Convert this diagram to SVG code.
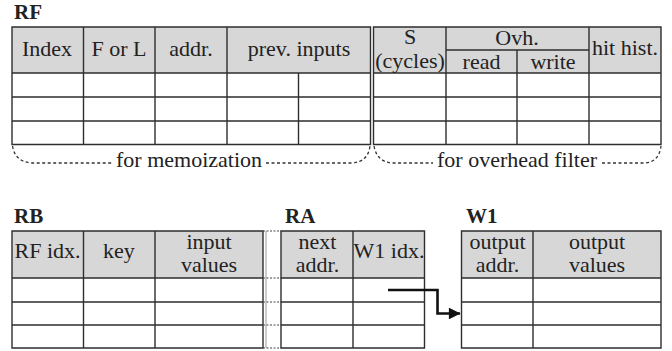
<svg xmlns="http://www.w3.org/2000/svg" width="672" height="351" viewBox="0 0 672 351">
<defs>
<style>
text{font-family:"Liberation Serif","Times New Roman",serif;fill:#222;}
.t{font-size:22px;text-anchor:middle;}
.lbl{font-size:21px;font-weight:bold;}
.hd{fill:#d7d7d7;stroke:none;}
.g{stroke:#2e2e2e;stroke-width:1.4;fill:none;}
.dot{stroke:#333;stroke-width:1.3;fill:none;stroke-dasharray:3 2.5;}
.arr{stroke:#111;stroke-width:2.6;fill:none;}
</style>
<marker id="ah" viewBox="0 0 10 10" refX="9.5" refY="5" markerWidth="5.5" markerHeight="4.5" markerUnits="strokeWidth" orient="auto">
<path d="M0,0 L10,5 L0,10 Z" fill="#111"/>
</marker>
</defs>
<rect width="672" height="351" fill="#fff"/>

<g id="RF">
<text class="lbl" x="14" y="19">RF</text>
<rect class="hd" x="12" y="27" width="358.5" height="46"/>
<path class="g" d="M12,27 H370.5 V144.5 H12 Z M12,73 H370.5 M12,97 H370.5 M12,121 H370.5 M83.5,27 V144.5 M155,27 V144.5 M227,27 V144.5 M298.5,73 V144.5"/>
<text class="t" x="47" y="56">Index</text>
<text class="t" x="119" y="56">F or L</text>
<text class="t" x="191" y="56">addr.</text>
<text class="t" x="299" y="56">prev. inputs</text>
</g>

<g id="OVH">
<rect class="hd" x="373.5" y="27" width="287.5" height="46"/>
<path class="g" d="M373.5,27 H661 V144.5 H373.5 Z M373.5,73 H661 M373.5,97 H661 M373.5,121 H661 M446,27 V144.5 M589,27 V144.5 M517,50 V144.5 M446,50 H589"/>
<text class="t" x="410" y="43.5">S</text>
<text class="t" x="410" y="68">(cycles)</text>
<text class="t" x="517" y="45">Ovh.</text>
<text class="t" x="481.5" y="69">read</text>
<text class="t" x="553" y="69">write</text>
<text class="t" x="625" y="55">hit hist.</text>
</g>

<g id="brackets">
<path class="dot" d="M12.5,146 Q15,162 32,163 L113,163"/>
<path class="dot" d="M266,163 L352,163 Q368,162 370,146"/>
<text class="t" x="189" y="167">for memoization</text>
<path class="dot" d="M374,146 Q377,162 392,163 L433,163"/>
<path class="dot" d="M602,163 L645,163 Q659,162 661,146"/>
<text class="t" x="517" y="167">for overhead filter</text>
</g>

<g id="RB">
<text class="lbl" x="14" y="223">RB</text>
<rect class="hd" x="12" y="231" width="251" height="47"/>
<path class="g" d="M12,231 H263 V348 H12 Z M12,278 H263 M12,302 H263 M12,325 H263 M83.5,231 V348 M155,231 V348"/>
<text class="t" x="47.5" y="258">RF idx.</text>
<text class="t" x="119" y="258">key</text>
<text class="t" x="209" y="249">input</text>
<text class="t" x="209" y="272">values</text>
</g>

<g id="gap">
<path d="M266,231 V348" stroke="#999" stroke-width="1" fill="none"/>
<path d="M263,231 H281 M263,278 H281 M263,302 H281 M263,325 H281 M263,348 H281" stroke="#444" stroke-width="1.2" stroke-dasharray="2 1.5" fill="none"/>
</g>

<g id="RA">
<text class="lbl" x="285" y="223">RA</text>
<rect class="hd" x="281" y="231" width="143.5" height="47"/>
<path class="g" d="M281,231 H424.5 V348 H281 Z M281,278 H424.5 M281,302 H424.5 M281,325 H424.5 M353,231 V348"/>
<text class="t" x="317.5" y="249">next</text>
<text class="t" x="317.5" y="272">addr.</text>
<text class="t" x="389" y="258">W1 idx.</text>
</g>

<g id="W1">
<text class="lbl" x="466" y="223">W1</text>
<rect class="hd" x="461.5" y="231" width="199.5" height="47"/>
<path class="g" d="M461.5,231 H661 V348 H461.5 Z M461.5,278 H661 M461.5,302 H661 M461.5,325 H661 M533,231 V348"/>
<text class="t" x="497.5" y="249">output</text>
<text class="t" x="497.5" y="272">addr.</text>
<text class="t" x="597" y="249">output</text>
<text class="t" x="597" y="272">values</text>
</g>

<g id="connectors">
<path class="arr" d="M388,290 H437.5 V313.5 H460" marker-end="url(#ah)"/>
</g>
</svg>
